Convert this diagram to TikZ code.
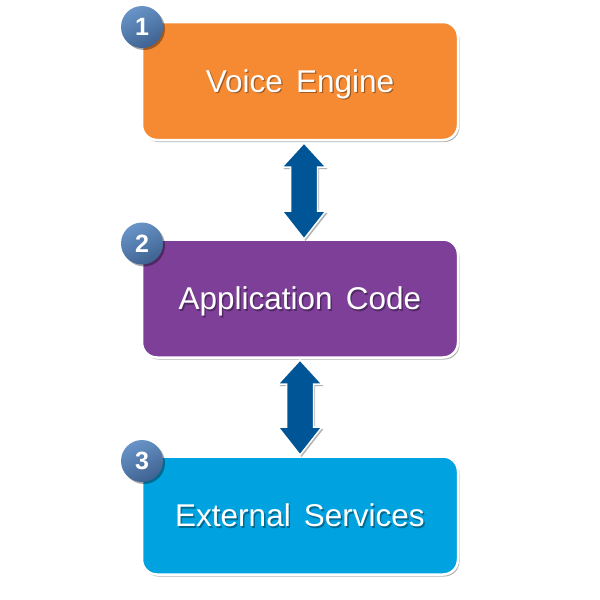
\documentclass[tikz,border=0pt]{standalone}
\usepackage{fontspec}
\setmainfont{Liberation Sans}
\usetikzlibrary{shadows,calc}
\definecolor{orangeA}{RGB}{245,138,51}
\definecolor{purpleA}{RGB}{125,63,152}
\definecolor{blueA}{RGB}{0,163,224}
\definecolor{arrowA}{RGB}{0,85,150}
\definecolor{badgeA}{RGB}{62,98,145}
\definecolor{badgeB}{RGB}{105,148,200}
\newcommand{\wsp}{\hspace{0.42em}}
\tikzset{
  stagebox/.style={draw=white, line width=2.5pt, rounded corners=15pt,
    minimum width=316pt, minimum height=118pt, inner sep=0pt,
    drop shadow={shadow xshift=1.5pt, shadow yshift=-2pt, fill=black, opacity=0.3}},
  stagetext/.style={anchor=base, inner sep=0pt, text=white,
    font=\fontsize{31.5}{34}\selectfont},
  txtshadow/.style={stagetext, text=black, opacity=0.35},
  badge/.style={circle, minimum size=42pt, inner sep=0pt, draw=none,
    top color=badgeB, bottom color=badgeA, shading angle=25,
    drop shadow={shadow xshift=2pt, shadow yshift=-2pt, fill=black, opacity=0.35},
    font=\bfseries\fontsize{25}{26}\selectfont, text=white},
  dblarrow/.style={fill=arrowA, draw=white, line width=1.5pt,
    drop shadow={shadow xshift=1.5pt, shadow yshift=-2pt, fill=black, opacity=0.3}}
}
\begin{document}
\begin{tikzpicture}[x=1pt,y=-1pt]
\useasboundingbox (0,0) rectangle (600,600);
% boxes
\node[stagebox, fill=orangeA] (b1) at (300,81) {};
\node[stagebox, fill=purpleA] (b2) at (300,298.5) {};
\node[stagebox, fill=blueA] (b3) at (300,515.5) {};
% text with shadow
\node[txtshadow] at ([xshift=1.3pt,yshift=-12.5pt]b1.center) {Voice\wsp Engine};
\node[txtshadow] at ([xshift=1.3pt,yshift=-12.5pt]b2.center) {Application\wsp Code};
\node[txtshadow] at ([xshift=1.3pt,yshift=-12.5pt]b3.center) {External\wsp Services};
\node[stagetext] (t1) at ([yshift=-11.3pt]b1.center) {Voice\wsp Engine};
\node[stagetext] (t2) at ([yshift=-11.3pt]b2.center) {Application\wsp Code};
\node[stagetext] (t3) at ([yshift=-11.3pt]b3.center) {External\wsp Services};
% arrows
\coordinate (a1t) at (304,143);
\coordinate (a1b) at (304,239);
\coordinate (a2t) at (300,360);
\coordinate (a2b) at (300,455);
\foreach \s/\e in {a1t/a1b, a2t/a2b}{
  \path[dblarrow] (\s) -- ++(22,24) -- ++(-8.5,0) -- ($(\e)+(13.5,-28)$) -- ++(8.5,0)
     -- (\e) -- ++(-22,-28) -- ++(8.5,0) -- ($(\s)+(-13.5,24)$) -- ++(-8.5,0) -- cycle;
}
% badges
\node[badge] (n1) at (142,27) {1};
\node[badge] (n2) at (142,243.5) {2};
\node[badge] (n3) at (142,461) {3};
\end{tikzpicture}
\end{document}
